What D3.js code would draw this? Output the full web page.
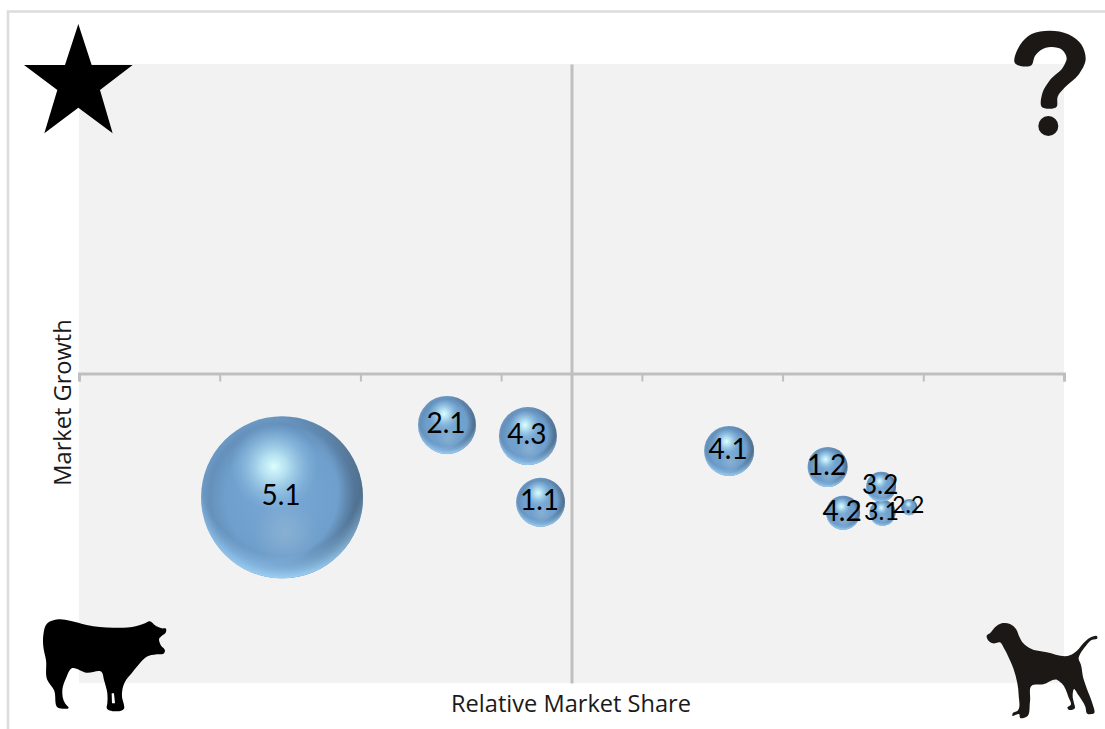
<!DOCTYPE html>
<html><head><meta charset="utf-8">
<script src="https://cdn.jsdelivr.net/npm/d3@7"></script>
<style>html,body{margin:0;padding:0;background:#fff}svg{display:block}</style>
</head><body><svg id="c" width="1105" height="729"></svg>
<script>
// Data
const labels = ["5.1","2.1","4.3","1.1","4.1","1.2","4.2","3.2","3.1","2.2"];
const share  = [1.443,2.615,3.19,3.28,4.62,5.32,5.43,5.70,5.71,5.90];
const growth = [3.00,4.17,3.99,2.92,3.75,3.49,2.75,3.17,2.75,2.84];
const sizes  = [100,12.8,12.8,9.1,9.5,6.1,4.4,3.4,2.6,1.0];
const xTicks = [0,1,2,3,4,5,6,7];
const xTitle = "Relative Market Share";
const yTitle = "Market Growth";

const W=1105,H=729;
const plot={l:79,r:1064,t:64,b:683};
const svg=d3.select("#c");
const x=d3.scaleLinear().domain([0,7]).range([plot.l,plot.r]);
const y=d3.scaleLinear().domain([0,10]).range([plot.b,plot.t]);
const r=d3.scaleSqrt().domain([0,100]).range([0,81]);
const fontFor=s=>s>=4?28:s>=3?26:s>=2?25:23;

// outer frame
svg.append("path").attr("d",`M8 ${H}V11.5H${W}`).attr("fill","none").attr("stroke","#dcdcdc").attr("stroke-width",2.5);
// plot
svg.append("rect").attr("x",plot.l).attr("y",plot.t).attr("width",plot.r-plot.l).attr("height",plot.b-plot.t).attr("fill","#f2f2f2");

// axes
const axis=svg.append("g").attr("transform",`translate(0,${y(5)})`).call(d3.axisBottom(x).tickValues(xTicks).tickSize(8).tickFormat(""));
axis.selectAll("path").attr("stroke","#bfbfbf").attr("stroke-width",3);
axis.selectAll("line").attr("stroke","#bfbfbf").attr("stroke-width",2);
const yAxis=svg.append("g").attr("transform",`translate(${x(3.5)},0)`).call(d3.axisLeft(y).tickValues([]).tickSize(0));
yAxis.selectAll("path").attr("stroke","#bfbfbf").attr("stroke-width",3);

// sphere shading
const defs=svg.append("defs");
function grad(id,attrs,stops){
  const g=defs.append("radialGradient").attr("id",id);
  Object.entries(attrs).forEach(([k,v])=>g.attr(k,v));
  stops.forEach(s=>g.append("stop").attr("offset",s[0]).attr("stop-color",s[1]).attr("stop-opacity",s[2]));
}
grad("sBase",{cx:.5,cy:.5,r:.5},[[0,"#78a8d4",1],[.7,"#6f9fcc",1],[.9,"#6490bb",1],[1,"#6d9ac4",1]]);
grad("sDark",{cx:.4,cy:.46,r:.62},[[0,"#2a3640",0],[.72,"#2a3640",0],[1,"#2a3640",.5]]);
grad("sGlow",{cx:.52,cy:.72,r:.2},[[0,"#a4c0d8",.45],[1,"#a4c0d8",0]]);
grad("sHigh",{cx:.45,cy:.31,r:.27},[[0,"#dcffff",1],[.3,"#c4eef8",.8],[1,"#8fc0e8",0]]);
grad("sRim",{cx:.5,cy:.36,r:.64},[[0,"#98d0fa",0],[.78,"#98d0fa",0],[1,"#a0d4fb",.95]]);

const pts=labels.map((l,i)=>({label:l,x:share[i],y:growth[i],s:sizes[i]}));
["sBase","sDark","sGlow","sHigh","sRim"].forEach(id=>{
  svg.append("g").selectAll("circle").data(pts).join("circle")
    .attr("cx",d=>x(d.x)).attr("cy",d=>y(d.y)).attr("r",d=>r(d.s)).attr("fill",`url(#${id})`);
});
svg.append("g").selectAll("text").data(pts).join("text")
  .attr("x",d=>x(d.x)-1).attr("y",d=>y(d.y)-3)
  .attr("text-anchor","middle").attr("dominant-baseline","central")
  .attr("font-family","Lato").attr("font-size",d=>fontFor(d.s)).attr("fill","#000")
  .text(d=>d.label);

// axis titles
svg.append("text").attr("x",571).attr("y",712).attr("text-anchor","middle")
  .attr("font-family","'Open Sans'").attr("font-size",23.6).attr("fill","#1a1a1a").text(xTitle);
svg.append("text").attr("transform","translate(71,402.5) rotate(-90)").attr("text-anchor","middle")
  .attr("font-family","'Open Sans'").attr("font-size",23.6).attr("fill","#1a1a1a").text(yTitle);

// quadrant icons
const icons=svg.append("g");
const star=[[235,72],[275,195],[398,195],[300,270],[338,400],[235,323],[133,400],[172,270],[72,195],[195,195]];
icons.append("path").attr("transform","scale(0.3333)")
  .attr("d",d3.line()(star)+"Z").attr("fill","#000");

const smooth=d3.line().curve(d3.curveCatmullRomClosed.alpha(1));
const cow=[[40,75],[50,42],[85,28],[120,32],[170,45],[250,53],[320,48],[345,40],[358,34],[378,48],[395,55],[408,56],[408,66],[395,78],[388,85],[392,105],[405,122],[402,130],[380,133],[350,140],[325,165],[305,190],[285,215],[276,260],[282,285],[283,293],[230,293],[232,280],[232,250],[222,210],[215,186],[170,188],[125,175],[108,205],[97,240],[105,280],[116,293],[84,293],[72,240],[52,210],[48,150],[40,110]];
const cowGap=d3.line()([[245,250],[252,250],[255,280],[246,280]])+"Z";
icons.append("path").attr("transform","translate(30,610) scale(0.3333)")
  .attr("d",smooth(cow)+cowGap).attr("fill-rule","evenodd").attr("fill","#000");

const dog=[[20,62],[30,55],[45,37],[65,25],[90,27],[108,42],[118,65],[130,85],[150,100],[200,112],[270,121],[290,108],[310,85],[330,68],[352,65],[352,70],[335,75],[318,92],[300,118],[296,128],[303,150],[310,190],[322,225],[337,265],[342,295],[322,296],[316,275],[295,240],[282,222],[278,240],[283,268],[285,278],[266,284],[262,278],[272,270],[265,245],[245,205],[232,195],[190,208],[155,212],[150,260],[140,305],[120,308],[118,298],[97,302],[98,295],[112,288],[116,240],[112,205],[100,160],[85,125],[72,100],[60,82],[38,85],[22,72]];
icons.append("path").attr("transform","translate(980,615) scale(0.3333)")
  .attr("d",smooth(dog)).attr("fill","#1c1816");

const q=[[90,190],[105,135],[140,102],[195,92],[250,103],[290,135],[302,178],[280,225],[240,262],[218,290],[215,320],[170,320],[172,280],[195,240],[235,200],[245,175],[232,150],[198,141],[168,150],[150,168],[140,195]];
icons.append("path").attr("transform","translate(985,0) scale(0.3333)")
  .attr("d",smooth(q)).attr("fill","#1c1816");
icons.append("circle").attr("transform","translate(985,0) scale(0.3333)")
  .attr("cx",190).attr("cy",378).attr("r",30).attr("fill","#1c1816");
</script></body></html>
